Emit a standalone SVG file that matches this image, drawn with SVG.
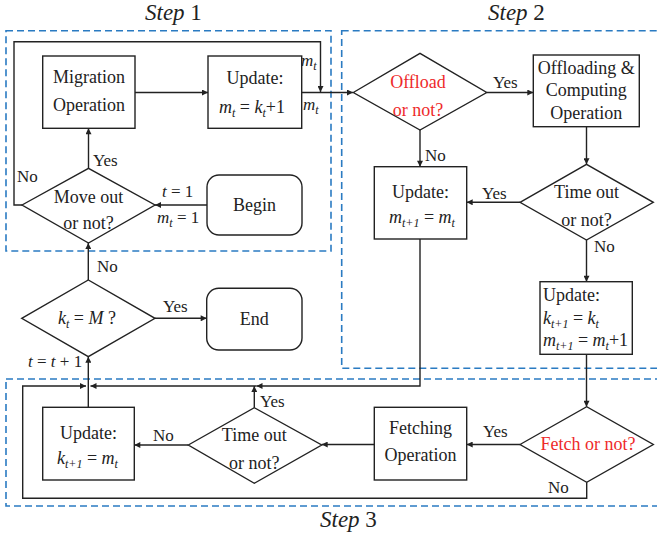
<svg xmlns="http://www.w3.org/2000/svg" width="657" height="539" viewBox="0 0 657 539" font-family="'Liberation Serif', 'Times New Roman', 'DejaVu Serif', serif">
<defs>
<marker id="ah" viewBox="0 0 10 10" refX="10" refY="5" markerWidth="7" markerHeight="6" markerUnits="userSpaceOnUse" orient="auto">
<path d="M0,0 L10,5 L0,10 z" fill="#222"/>
</marker>
</defs>
<style>
.n{fill:#fff;stroke:#222;stroke-width:1.4}
.c{fill:none;stroke:#222;stroke-width:1.4;marker-end:url(#ah)}
.d{fill:none;stroke:#2a7bc2;stroke-width:1.6;stroke-dasharray:7 4}
text{font-family:'Liberation Serif','Times New Roman','DejaVu Serif',serif;font-size:18px;fill:#222}
.t{text-anchor:middle}
.lb{font-size:17px}
.red{fill:#ee2a2a}
.i{font-style:italic}
.s{font-size:12px;font-style:italic}
.ti{font-size:23px}
</style>
<g id="steps">
<rect class="d" x="6" y="30.7" width="325" height="220.3"/>
<rect class="d" x="341.7" y="30.7" width="330" height="337.6"/>
<rect class="d" x="6" y="379" width="670" height="127"/>
<text class="ti" x="145" y="20"><tspan class="i">Step</tspan> 1</text>
<text class="ti" x="488" y="20"><tspan class="i">Step</tspan> 2</text>
<text class="ti" x="320" y="527"><tspan class="i">Step</tspan> 3</text>
</g>
<g id="connectors">
<path class="c" d="M135,92.5 H208"/>
<path class="c" d="M301.7,92.5 H353"/>
<path class="c" d="M22,205 H14 V41.7 H320.5 V92"/>
<path class="c" d="M88.5,168.3 V128.3"/>
<path class="c" d="M207,205 H155"/>
<path class="c" d="M88.3,280 V243"/>
<path class="c" d="M155,318.3 H206.7"/>
<path class="c" d="M486.7,92.5 H533.3"/>
<path class="c" d="M420,130 V166.7"/>
<path class="c" d="M586.5,126.7 V164.3"/>
<path class="c" d="M520,202.3 H466.7"/>
<path class="c" d="M586.5,240 V281.7"/>
<path class="c" d="M586.5,354.3 V406.7"/>
<path class="c" d="M520,444.5 H466.7"/>
<path class="c" d="M374.3,444.5 H321.7"/>
<path class="c" d="M188.3,445 H134.3"/>
<path class="c" d="M254.3,407.7 V386"/>
<path class="c" d="M420,239 V386 H256.5"/>
<path class="c" d="M256.5,386 H90.5"/>
<path class="c" d="M586.7,482.3 V498.3 H22.7 V386 H86"/>
<path class="c" d="M88.3,407.3 V356.7"/>
<text class="lb" x="93" y="166">Yes</text>
<text class="lb" x="17" y="182">No</text>
<text class="lb" x="162" y="197"><tspan class="i">t</tspan> = 1</text>
<text class="lb" x="157" y="223"><tspan class="i">m</tspan><tspan class="s" dy="4">t</tspan><tspan dy="-4"> = 1</tspan></text>
<text class="lb" x="301" y="66"><tspan class="i">m</tspan><tspan class="s" dy="4">t</tspan></text>
<text class="lb" x="303" y="110"><tspan class="i">m</tspan><tspan class="s" dy="4">t</tspan></text>
<text class="lb" x="493" y="88">Yes</text>
<text class="lb" x="425" y="161">No</text>
<text class="lb" x="482" y="199">Yes</text>
<text class="lb" x="594" y="252">No</text>
<text class="lb" x="97" y="272">No</text>
<text class="lb" x="163" y="312">Yes</text>
<text class="lb" x="28" y="367"><tspan class="i">t</tspan> = <tspan class="i">t</tspan> + 1</text>
<text class="lb" x="260" y="407">Yes</text>
<text class="lb" x="153" y="441">No</text>
<text class="lb" x="483" y="437">Yes</text>
<text class="lb" x="548" y="493">No</text>
</g>
<g id="migration">
<rect class="n" x="42.7" y="56" width="92.3" height="72.3"/>
<text class="t" x="89" y="83">Migration</text>
<text class="t" x="89" y="111">Operation</text>
</g>
<g id="update1">
<rect class="n" x="208" y="56" width="93.7" height="72.3"/>
<text class="t" x="255" y="84">Update:</text>
<text x="219" y="113"><tspan class="i">m</tspan><tspan class="s" dy="4">t</tspan><tspan dy="-4"> = </tspan><tspan class="i">k</tspan><tspan class="s" dy="4">t</tspan><tspan dy="-4">+1</tspan></text>
</g>
<g id="moveout">
<polygon class="n" points="22,205 88.5,168.3 155,205 88.5,243"/>
<text class="t" x="88.5" y="203">Move out</text>
<text class="t" x="88.5" y="229">or not?</text>
</g>
<g id="begin">
<rect class="n" x="207" y="175" width="95" height="60" rx="12"/>
<text class="t" x="254.5" y="211">Begin</text>
</g>
<g id="offload">
<polygon class="n" points="353.3,92.5 420,53.3 486.7,92.5 420,130"/>
<text class="t red" x="418" y="88">Offload</text>
<text class="t red" x="418" y="116">or not?</text>
</g>
<g id="offloading">
<rect class="n" x="533.3" y="55" width="106" height="71.7"/>
<text class="t" x="586.3" y="74">Offloading &amp;</text>
<text class="t" x="586.3" y="96">Computing</text>
<text class="t" x="586.3" y="119">Operation</text>
</g>
<g id="timeout1">
<polygon class="n" points="520,202.3 586.5,164.3 653.3,202.3 586.5,240"/>
<text class="t" x="586.5" y="198">Time out</text>
<text class="t" x="586.5" y="226">or not?</text>
</g>
<g id="update2">
<rect class="n" x="374.3" y="166.7" width="92.4" height="72.3"/>
<text class="t" x="420.5" y="198">Update:</text>
<text x="389" y="223"><tspan class="i">m</tspan><tspan class="s" dy="4">t+1</tspan><tspan dy="-4"> = </tspan><tspan class="i">m</tspan><tspan class="s" dy="4">t</tspan></text>
</g>
<g id="update3">
<rect class="n" x="540" y="281.7" width="92.3" height="72.6"/>
<text x="543" y="301">Update:</text>
<text x="543" y="324"><tspan class="i">k</tspan><tspan class="s" dy="4">t+1</tspan><tspan dy="-4"> = </tspan><tspan class="i">k</tspan><tspan class="s" dy="4">t</tspan></text>
<text x="543" y="346"><tspan class="i">m</tspan><tspan class="s" dy="4">t+1</tspan><tspan dy="-4"> = </tspan><tspan class="i">m</tspan><tspan class="s" dy="4">t</tspan><tspan dy="-4">+1</tspan></text>
</g>
<g id="kcheck">
<polygon class="n" points="21.7,318.3 88.3,280 155,318.3 88.3,356.7"/>
<text x="58" y="324"><tspan class="i">k</tspan><tspan class="s" dy="4">t</tspan><tspan dy="-4"> = </tspan><tspan class="i">M</tspan> ?</text>
</g>
<g id="end">
<rect class="n" x="206.7" y="288.3" width="95.3" height="61.7" rx="12"/>
<text class="t" x="254.3" y="325">End</text>
</g>
<g id="update4">
<rect class="n" x="42.7" y="407.3" width="91.6" height="72.7"/>
<text class="t" x="88.5" y="439">Update:</text>
<text x="57" y="464"><tspan class="i">k</tspan><tspan class="s" dy="4">t+1</tspan><tspan dy="-4"> = </tspan><tspan class="i">m</tspan><tspan class="s" dy="4">t</tspan></text>
</g>
<g id="timeout2">
<polygon class="n" points="188.3,445 254.3,407.7 321.7,445 254.3,483.3"/>
<text class="t" x="254.3" y="441">Time out</text>
<text class="t" x="254.3" y="469">or not?</text>
</g>
<g id="fetching">
<rect class="n" x="374.3" y="407.3" width="92.4" height="72.7"/>
<text class="t" x="420.5" y="434">Fetching</text>
<text class="t" x="420.5" y="461">Operation</text>
</g>
<g id="fetch">
<polygon class="n" points="520,444.5 586.7,406.7 653.3,444.5 586.7,482.3"/>
<text class="t red" x="588" y="450">Fetch or not?</text>
</g>
</svg>
